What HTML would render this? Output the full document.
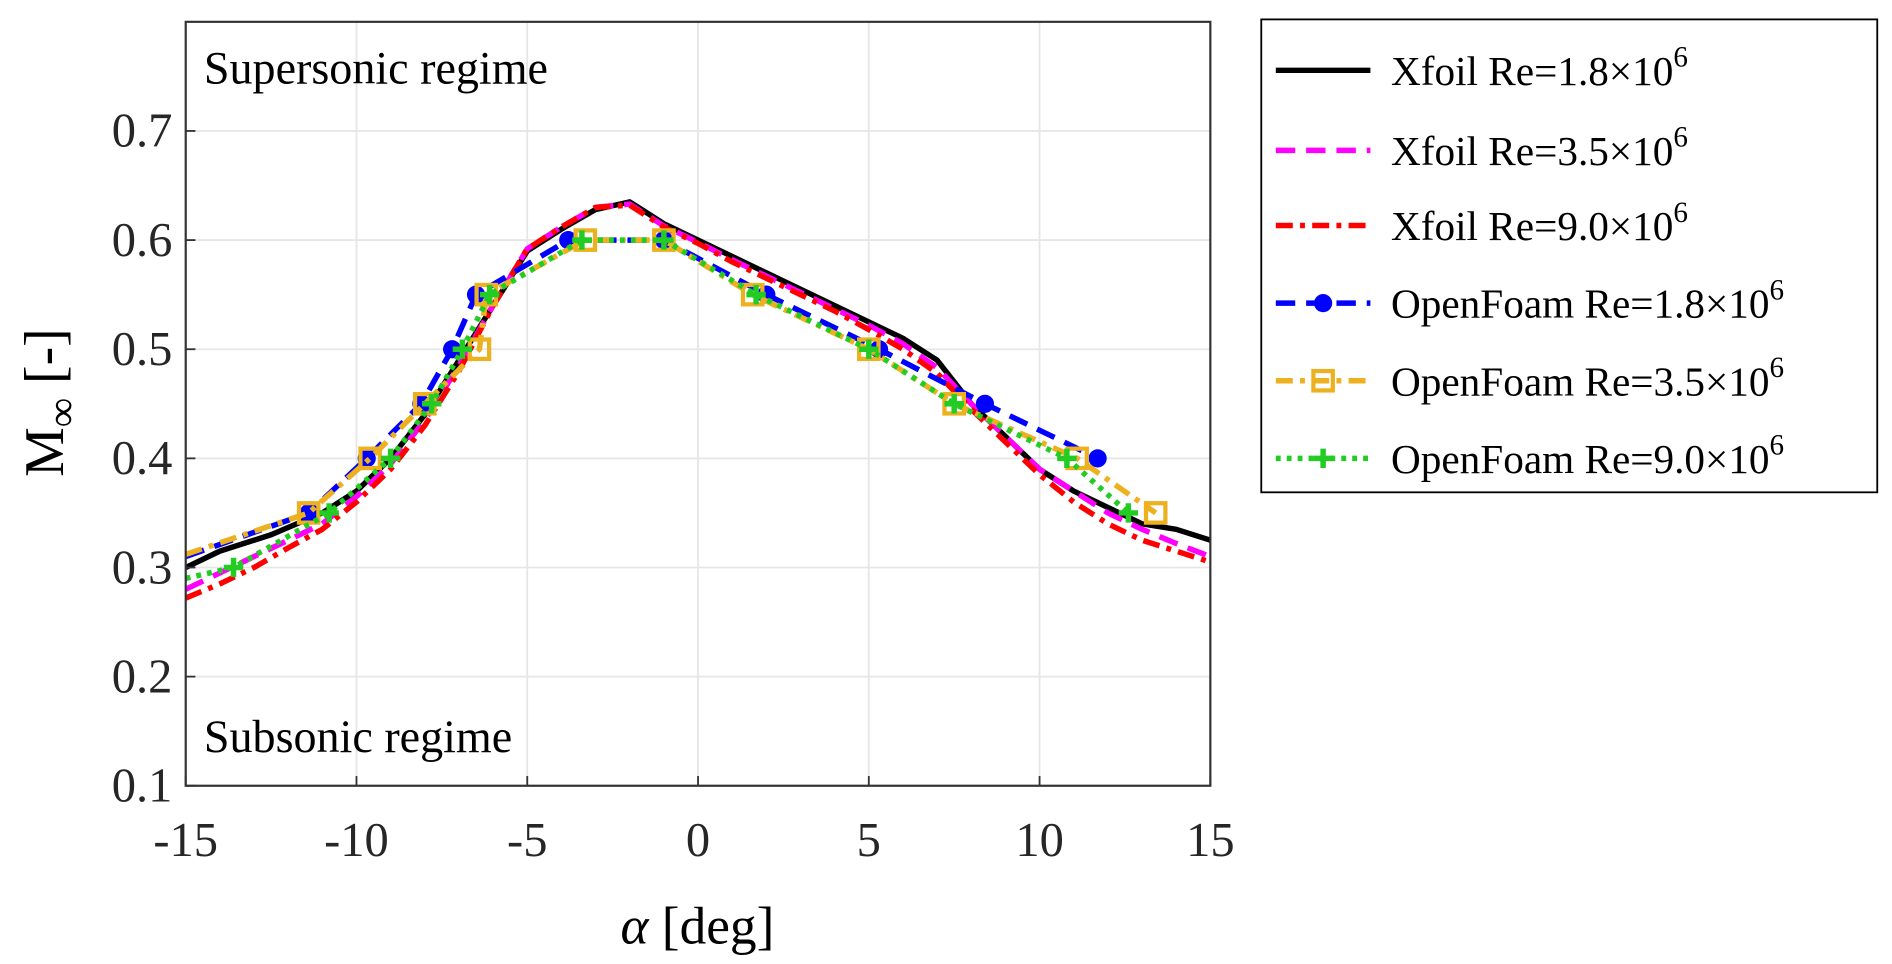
<!DOCTYPE html>
<html><head><meta charset="utf-8"><style>
html,body{margin:0;padding:0;background:#fff;}
svg{display:block;font-family:"Liberation Serif",serif;}
</style></head><body>
<svg id="chart" width="1892" height="964" viewBox="0 0 1560 795" xmlns="http://www.w3.org/2000/svg">
<defs><clipPath id="clip"><rect x="153" y="18" width="845" height="630"/></clipPath></defs>
<g id="grid"></g>
<g id="series" clip-path="url(#clip)"></g>
<g id="axes"></g>
<text x="168" y="69" font-size="38">Supersonic regime</text>
<text x="168" y="620" font-size="38">Subsonic regime</text>
<text x="575" y="778" font-size="44" text-anchor="middle"><tspan font-style="italic">α</tspan> [deg]</text>
<text transform="translate(52,332) rotate(-90)" font-size="46" text-anchor="middle">M<tspan font-size="34" dy="10">∞</tspan><tspan dy="-10"> [-]</tspan></text>
<g id="legend"></g>
</svg>
<script>
const xTicks=[-15,-10,-5,0,5,10,15];
const yTicks=[0.1,0.2,0.3,0.4,0.5,0.6,0.7];
const yTickLabels=["0.1","0.2","0.3","0.4","0.5","0.6","0.7"];
const xf18A=[-15,-14,-12.5,-11,-10,-9,-8,-7,-6,-5,-4,-3,-2,-1,0,1,2,3,4,5,6,7,8,9,10,11,12,13,14,15];
const xf18M=[0.30,0.315,0.33,0.35,0.37,0.40,0.44,0.49,0.54,0.59,0.61,0.628,0.635,0.615,0.60,0.585,0.57,0.555,0.54,0.525,0.51,0.49,0.45,0.42,0.39,0.37,0.355,0.34,0.335,0.325];
const xf35A=[-15,-14,-13,-12,-11,-10,-9,-8,-7,-6,-5,-4,-3,-2,-1,0,1,2,3,4,5,6,7,8,9,10,11,12,13,14,15];
const xf35M=[0.28,0.295,0.31,0.325,0.34,0.365,0.395,0.435,0.485,0.54,0.592,0.612,0.63,0.633,0.613,0.598,0.582,0.567,0.552,0.537,0.522,0.505,0.483,0.45,0.42,0.39,0.37,0.35,0.335,0.322,0.31];
const xf90A=[-15,-14,-13,-12,-11,-10,-9,-8,-7,-6,-5,-4,-3,-2,-1,0,1,2,3,4,5,6,7,8,9,10,11,12,13,14,15];
const xf90M=[0.272,0.285,0.30,0.318,0.335,0.36,0.39,0.43,0.48,0.54,0.592,0.612,0.63,0.632,0.612,0.597,0.58,0.565,0.55,0.535,0.518,0.5,0.478,0.445,0.415,0.385,0.36,0.34,0.325,0.315,0.305];
const of18A=[-15,-11.4,-9.7,-8.1,-7.2,-6.5,-3.8,-1,2,5.3,8.4,11.7];
const of18M=[0.31,0.35,0.40,0.45,0.50,0.55,0.60,0.60,0.55,0.50,0.45,0.40];
const of35A=[-15,-11.4,-9.6,-8,-6.4,-6.2,-3.3,-1,1.6,5,7.5,11.1,13.4];
const of35M=[0.312,0.35,0.40,0.45,0.50,0.55,0.60,0.60,0.55,0.50,0.45,0.40,0.35];
const of90A=[-15,-13.6,-10.8,-9,-7.8,-6.9,-6.1,-3.4,-1,1.7,5,7.5,10.8,12.6];
const of90M=[0.29,0.30,0.35,0.40,0.45,0.50,0.55,0.60,0.60,0.55,0.50,0.45,0.40,0.35];
const NS="http://www.w3.org/2000/svg";
const X=a=>153+(a+15)*845/30;
const Y=v=>648-(v-0.1)*900;
function mk(tag,at,parent){const e=document.createElementNS(NS,tag);for(const k in at)e.setAttribute(k,at[k]);parent.appendChild(e);return e;}
const grid=document.getElementById('grid'),axes=document.getElementById('axes'),ser=document.getElementById('series'),leg=document.getElementById('legend');
xTicks.forEach(t=>{
 const g=mk('line',{x1:X(t),x2:X(t),y1:18,y2:648,stroke:'#e6e6e6','stroke-width':1.5},grid);
 
 
 mk('line',{x1:X(t),x2:X(t),y1:648,y2:640,stroke:'#333','stroke-width':1.5},axes);
 const l=mk('text',{x:X(t),y:706,'font-size':40,'text-anchor':'middle',fill:'#262626'},axes);
 l.textContent=String(t);
 
 
});
yTicks.forEach((t,i)=>{
 const g=mk('line',{x1:153,x2:998,y1:Y(t),y2:Y(t),stroke:'#e6e6e6','stroke-width':1.5},grid);
 
 
 mk('line',{x1:153,x2:161,y1:Y(t),y2:Y(t),stroke:'#333','stroke-width':1.5},axes);
 const l=mk('text',{x:142,y:Y(t)+13,'font-size':40,'text-anchor':'end',fill:'#262626'},axes);
 l.textContent=yTickLabels[i];
 
 
});
const box=mk('rect',{x:153,y:18,width:845,height:630,fill:'none',stroke:'#333','stroke-width':1.8},axes);


const S=[
 {a:xf18A,m:xf18M,c:'#000',d:'',w:4.5,mark:null,name:'xfoil-re-1.8',lab:'Xfoil Re=1.8'},
 {a:xf35A,m:xf35M,c:'#ff00ff',d:'16 9',w:4.5,mark:null,name:'xfoil-re-3.5',lab:'Xfoil Re=3.5'},
 {a:xf90A,m:xf90M,c:'#ff0000',d:'14 6 4 6',w:4.5,mark:null,name:'xfoil-re-9.0',lab:'Xfoil Re=9.0'},
 {a:of18A,m:of18M,c:'#0000ff',d:'16 9',w:4.5,mark:'circle',name:'openfoam-re-1.8',lab:'OpenFoam Re=1.8'},
 {a:of35A,m:of35M,c:'#edb120',d:'14 6 4 6',w:4.5,mark:'square',name:'openfoam-re-3.5',lab:'OpenFoam Re=3.5'},
 {a:of90A,m:of90M,c:'#22cc22',d:'4 5',w:4.5,mark:'plus',name:'openfoam-re-9.0',lab:'OpenFoam Re=9.0'}
];
function marker(type,x,y,c,p){
 let e;
 if(type==='circle')e=mk('circle',{cx:x,cy:y,r:7.5,fill:c},p);
 else if(type==='square')e=mk('rect',{x:x-8,y:y-8,width:16,height:16,fill:'none',stroke:c,'stroke-width':3.5},p);
 else e=mk('path',{d:`M${x-8},${y}H${x+8}M${x},${y-8}V${y+8}`,stroke:c,'stroke-width':4.5,fill:'none'},p);
 return e;
}
S.forEach(s=>{
 const pts=s.a.map((a,i)=>X(a)+','+Y(s.m[i])).join(' ');
 const pl=mk('polyline',{points:pts,fill:'none',stroke:s.c,'stroke-width':s.w,'stroke-dasharray':s.d,'stroke-linejoin':'round'},ser);
 
 
 if(s.mark){s.a.forEach((a,i)=>{if(i===0)return;const m=marker(s.mark,X(a),Y(s.m[i]),s.c,ser);
  
  });}
});
const lb=mk('rect',{x:1040,y:16,width:508,height:390,fill:'#fff',stroke:'#000','stroke-width':1.5},leg);


const ly=[58,124,186,250,314,378];
S.forEach((s,i)=>{
 const y=ly[i];
 const g=mk('g',{},leg);
 
 
 mk('line',{x1:1052,x2:1130,y1:y,y2:y,stroke:s.c,'stroke-width':4.5,'stroke-dasharray':s.d},g);
 if(s.mark)marker(s.mark,1091,y,s.c,g);
 const t=mk('text',{x:1147,y:y+12,'font-size':34,fill:'#000'},g);
 t.innerHTML=s.lab+'×10<tspan font-size="24" dy="-15">6</tspan>';
});
</script>
</body></html>
